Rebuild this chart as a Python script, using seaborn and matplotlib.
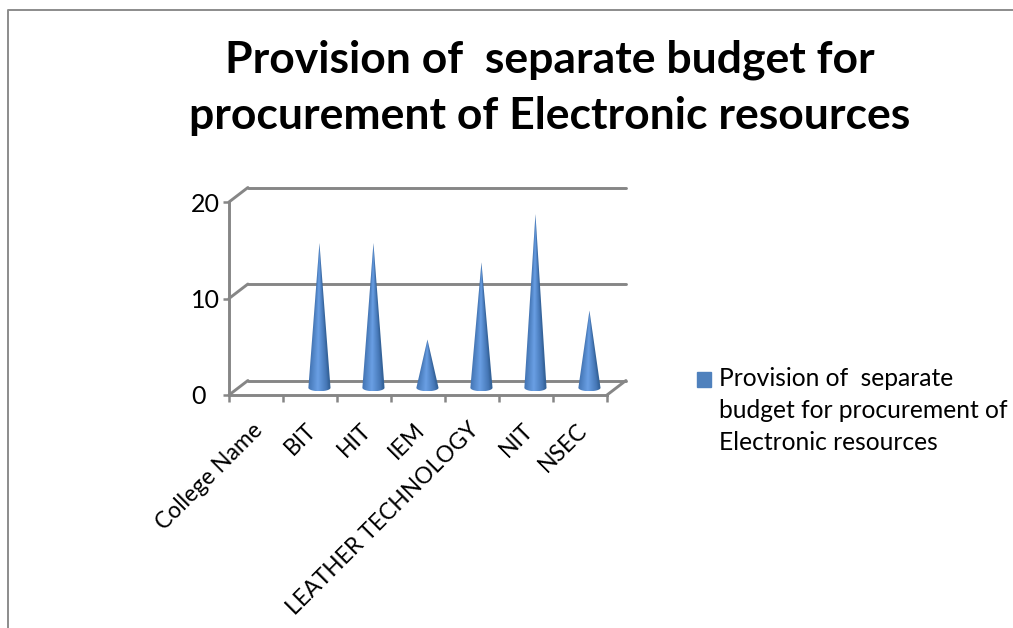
import numpy as np
import pandas as pd
import seaborn as sns
import matplotlib
matplotlib.use("Agg")
import matplotlib.pyplot as plt
from matplotlib.colors import LinearSegmentedColormap
from matplotlib.legend_handler import HandlerPatch
from matplotlib.lines import Line2D
from matplotlib.patches import PathPatch, Patch, Rectangle
from matplotlib.path import Path
from matplotlib.transforms import ScaledTranslation

colleges = ["College Name", "BIT", "HIT", "IEM", "LEATHER TECHNOLOGY", "NIT", "NSEC"]
budget_counts = [np.nan, 15, 15, 5, 13, 18, 8]
y_ticks = [0, 10, 20]
chart_title = "Provision of  separate budget for\nprocurement of Electronic resources"
series_label = "Provision of  separate\nbudget for procurement of\nElectronic resources"

W, H, DPI = 1013, 628, 100
GRID = "#868686"
FONT = ["Lato", "DejaVu Sans"]

sns.set_theme(style="white")
plt.rcParams["font.family"] = FONT

fig = plt.figure(figsize=(W / DPI, H / DPI), dpi=DPI, facecolor="white")
ax = fig.add_axes([229 / W, (H - 395) / H, 378 / W, 193 / H])

frame = pd.DataFrame({"college": colleges, "count": budget_counts})
sns.barplot(data=frame, x="college", y="count", order=colleges, ax=ax, width=0.4)
ax.set_xlim(-0.5, 6.5)
ax.set_ylim(0, 20)
ax.set_xlabel("")
ax.set_ylabel("")

# Oblique depth of the 3-D box, in data units
DEPTH_X, DEPTH_Y = 0.35, 1.5
CONE_HALF_W, CONE_HALF_H = 0.205, 0.36

wall = dict(color=GRID, lw=2.1, clip_on=False, zorder=1, solid_capstyle="round")
for v in y_ticks:
    ax.plot([-0.5 + DEPTH_X, 6.5 + DEPTH_X], [v + DEPTH_Y] * 2, **wall)
    ax.plot([-0.5, -0.5 + DEPTH_X], [v, v + DEPTH_Y], **wall)
ax.plot([6.5, 6.5 + DEPTH_X], [0, DEPTH_Y], **wall)

# Cones replace the flat bars, with shading that follows the surface
shade = LinearSegmentedColormap.from_list(
    "cone", [(0, "#6a9fe4"), (0.4, "#578bcd"), (0.8, "#4576b5"), (1, "#356399")]
)
for bar in list(ax.patches):
    height = bar.get_height()
    bar.set_visible(False)
    if not np.isfinite(height) or height <= 0:
        continue
    xc = bar.get_x() + bar.get_width() / 2 + DEPTH_X / 2
    y0 = DEPTH_Y / 2
    apex = y0 + height
    t = np.linspace(np.pi, 2 * np.pi, 40)
    verts = [(xc, apex)] + list(zip(xc + CONE_HALF_W * np.cos(t), y0 + CONE_HALF_H * np.sin(t))) + [(xc, apex)]
    codes = [Path.MOVETO] + [Path.LINETO] * (len(verts) - 2) + [Path.CLOSEPOLY]
    outline = PathPatch(Path(verts, codes), transform=ax.transData, fc="none", ec="none")
    ax.add_patch(outline)

    xs = np.linspace(xc - CONE_HALF_W, xc + CONE_HALF_W, 80)
    ys = np.linspace(y0 - CONE_HALF_H, apex, 160)
    gx, gy = np.meshgrid(xs, ys)
    reach = np.clip((apex - gy) / height, 1e-3, None) * CONE_HALF_W
    across = np.abs(gx - xc + 0.15 * reach) / reach
    img = ax.imshow(
        np.clip(across, 0, 1),
        cmap=shade, vmin=0, vmax=1, origin="lower", aspect="auto", zorder=3,
        extent=(xs[0], xs[-1], ys[0], ys[-1]), interpolation="bilinear",
    )
    img.set_clip_path(outline)

ax.set_xlim(-0.5, 6.5)
ax.set_ylim(0, 20)

for side in ("top", "right"):
    ax.spines[side].set_visible(False)
for side in ("left", "bottom"):
    ax.spines[side].set_color(GRID)
    ax.spines[side].set_linewidth(2.1)

# Value labels share a left edge rather than hugging the ticks
ax.set_yticks(y_ticks)
ax.set_yticklabels([str(v) for v in y_ticks], fontsize=18, color="black", ha="left")
ax.tick_params(axis="y", length=4, width=1.8, color=GRID, left=True, pad=23.5)

ax.set_xticks(range(len(colleges)))
ax.set_xticklabels(colleges, rotation=45, ha="right", va="top", rotation_mode="anchor",
                   fontsize=16.5, color="black")
ax.set_xticks(np.arange(-0.5, 7), minor=True)
ax.tick_params(axis="x", which="major", length=0, pad=17.5)
ax.tick_params(axis="x", which="minor", length=5, width=1.8, color=GRID, bottom=True)
nudge = ScaledTranslation(-4 / DPI, 0, fig.dpi_scale_trans)
for label in ax.get_xticklabels():
    label.set_transform(label.get_transform() + nudge)

fig.text(550 / W, 1 - 88 / H, chart_title, ha="center", va="center", fontsize=32,
         fontweight="bold", color="black", linespacing=1.5)


def first_line_swatch(legend, orig_handle, xdescent, ydescent, width, height, fontsize):
    # Sits beside the first of the three label lines instead of the middle one
    return Rectangle((-xdescent, -ydescent + 23), width, height)


swatch = Patch(color="#4f81bd", label=series_label)
legend = fig.legend(handles=[swatch], loc="upper left",
                    bbox_to_anchor=(697 / W, 1 - 367 / H), frameon=False, fontsize=17.7,
                    handlelength=0.55, handleheight=0.55, handletextpad=0.35, labelspacing=0,
                    borderpad=0, borderaxespad=0, labelcolor="black",
                    handler_map={Patch: HandlerPatch(patch_func=first_line_swatch)})
legend.get_texts()[0].set_linespacing(1.48)

# Frame around the chart area, cut off at the top-right and bottom
fig.add_artist(Line2D([8 / W, 8 / W, 1], [0, 1 - 9.5 / H, 1 - 9.5 / H],
                      color="#8c8c8c", lw=1.4, transform=fig.transFigure))

fig.savefig("out.png", dpi=DPI)
